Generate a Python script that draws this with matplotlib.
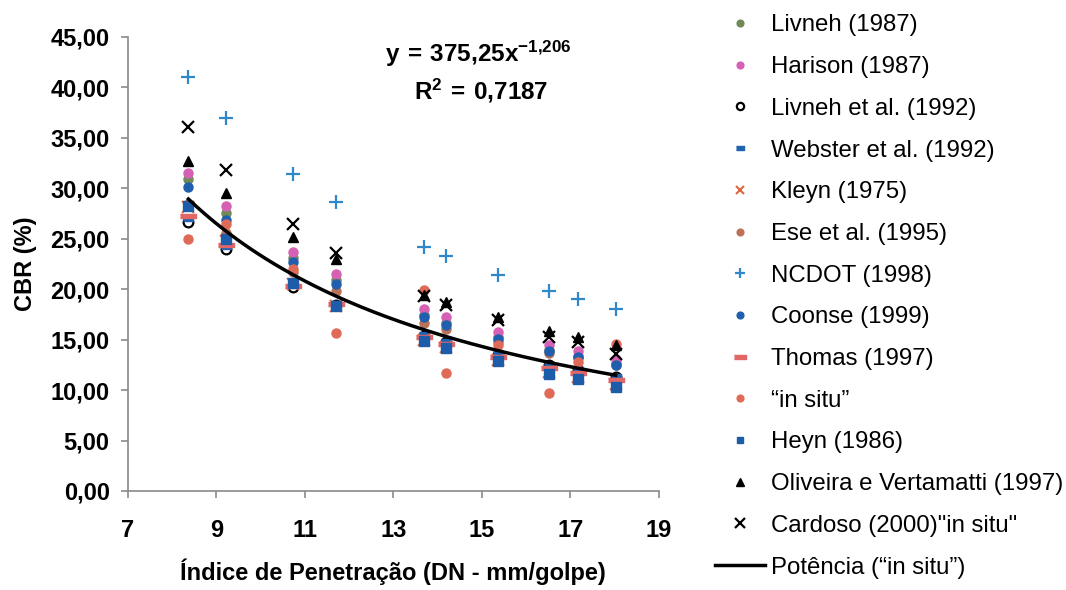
import matplotlib.pyplot as plt
import numpy as np
from matplotlib.ticker import FixedLocator, FuncFormatter, MultipleLocator

plt.rcParams['font.family'] = ['Liberation Sans', 'DejaVu Sans']
plt.rcParams['mathtext.fontset'] = 'custom'
plt.rcParams['mathtext.rm'] = 'Liberation Sans'
plt.rcParams['mathtext.bf'] = 'Liberation Sans:bold'

# penetration index of each test point (DN, mm/blow)
dn = [8.37, 9.22, 10.73, 11.70, 13.70, 14.20, 15.36, 16.52, 17.16, 18.02]

# CBR (%) given by each correlation at those points
livneh_1987 = [30.9, 27.6, 23.1, 20.9, 17.4, 16.7, 15.3, 14.0, 13.4, 12.7]
harison_1987 = [31.5, 28.2, 23.7, 21.5, 18.0, 17.2, 15.8, 14.5, 13.9, 13.1]
livneh_1992 = [26.7, 24.0, 20.2, 18.4, 15.4, 14.8, 13.5, 12.5, 12.0, 11.3]
webster_1992 = [27.0, 24.2, 20.4, 18.6, 15.6, 14.9, 13.7, 12.6, 12.1, 11.4]
kleyn_1975 = [28.1, 24.8, 20.5, 18.3, 15.0, 14.3, 13.0, 11.8, 11.3, 10.6]
ese_1995 = [28.4, 25.6, 21.7, 19.8, 16.7, 16.1, 14.8, 13.7, 13.2, 12.5]
ncdot_1998 = [41.0, 37.0, 31.4, 28.6, 24.2, 23.3, 21.4, 19.8, 19.0, 18.0]
coonse_1999 = [30.1, 26.9, 22.7, 20.5, 17.2, 16.5, 15.1, 13.9, 13.3, 12.5]
thomas_1997 = [27.3, 24.4, 20.3, 18.5, 15.3, 14.6, 13.3, 12.2, 11.7, 11.0]
in_situ = [25.0, 26.5, 22.0, 15.7, 19.9, 11.7, 14.5, 9.7, 12.8, 14.6]
heyn_1986 = [28.2, 25.0, 20.6, 18.3, 14.9, 14.2, 12.9, 11.6, 11.1, 10.3]
oliveira_1997 = [32.7, 29.5, 25.2, 23.0, 19.4, 18.7, 17.2, 15.9, 15.3, 14.5]
cardoso_2000 = [36.1, 31.8, 26.5, 23.6, 19.3, 18.4, 16.9, 15.3, 14.8, 13.6]

# power trendline of the "in situ" series: y = a * x^b
fit_a = 375.25
fit_b = -1.206
fit_r2 = 0.7187

x_ticks = [7, 9, 11, 13, 15, 17, 19]

# small horizontal bars used as markers
SHORT_BAR = [(-1, -0.5), (1, -0.5), (1, 0.5), (-1, 0.5)]
LONG_BAR = [(-1, -0.3), (1, -0.3), (1, 0.3), (-1, 0.3)]

SERIES = [
    ('Livneh (1987)', livneh_1987, dict(marker='o', color='#6f8a55', ms=6.5)),
    ('Harison (1987)', harison_1987, dict(marker='o', color='#d660b4', ms=6.5)),
    ('Livneh et al. (1992)', livneh_1992,
     dict(marker='o', mfc='white', mec='black', mew=1.6, ms=7)),
    ('Webster et al. (1992)', webster_1992, dict(marker=SHORT_BAR, color='#1f62b2', ms=7)),
    ('Kleyn (1975)', kleyn_1975, dict(marker='x', color='#e2663f', mew=1.5, ms=8)),
    ('Ese et al. (1995)', ese_1995, dict(marker='o', color='#bb7256', ms=6.5)),
    ('NCDOT (1998)', ncdot_1998, dict(marker='+', color='#2f88c9', mew=1.6, ms=10)),
    ('Coonse (1999)', coonse_1999, dict(marker='o', color='#1f5fae', ms=6.5)),
    ('Thomas (1997)', thomas_1997, dict(marker=LONG_BAR, color='#e26666', ms=11)),
    ('\u201cin situ\u201d', in_situ, dict(marker='o', color='#e06a58', ms=6.5)),
    ('Heyn (1986)', heyn_1986, dict(marker='s', color='#1d5ca8', ms=6.5)),
    ('Oliveira e Vertamatti (1997)', oliveira_1997, dict(marker='^', color='black', ms=7)),
    ('Cardoso (2000)"in situ"', cardoso_2000, dict(marker='x', color='black', mew=1.6, ms=9)),
]


def comma_decimal(value, pos):
    return f'{value:.2f}'.replace('.', ',')


def mathtext_number(value, decimals):
    # decimal comma, braced so mathtext does not add spacing after it
    return f'{value:.{decimals}f}'.replace('.', '{,}')


def draw_chart():
    fig = plt.figure(figsize=(10.66, 5.90), dpi=100)
    ax = fig.add_axes([0.1198, 0.1678, 0.4984, 0.7695])

    handles = []
    for label, values, style in SERIES:
        line, = ax.plot(dn, values, linestyle='none', label=label, **style)
        handles.append(line)

    # trendline over the range of the data
    x_fit = np.linspace(min(dn), max(dn), 200)
    fit_line, = ax.plot(x_fit, fit_a * x_fit ** fit_b, color='black', lw=2.5,
                        label='Potência (\u201cin situ\u201d)')
    handles.append(fit_line)

    a_text = mathtext_number(fit_a, 2)
    b_text = mathtext_number(fit_b, 3)
    r2_text = mathtext_number(fit_r2, 4)
    ax.text(0.66, 0.963, rf'$\mathbf{{y\,=\,{a_text}x^{{{b_text}}}}}$',
            transform=ax.transAxes, ha='center', va='center', fontsize=17.5)
    ax.text(0.665, 0.882, rf'$\mathbf{{R^2\,=\,{r2_text}}}$',
            transform=ax.transAxes, ha='center', va='center', fontsize=17.5)

    ax.set_xlim(7, 19)
    ax.set_ylim(0, 45)
    ax.xaxis.set_major_locator(FixedLocator(x_ticks))
    ax.yaxis.set_major_locator(MultipleLocator(5))
    ax.yaxis.set_major_formatter(FuncFormatter(comma_decimal))

    for side in ('top', 'right'):
        ax.spines[side].set_visible(False)
    for side in ('left', 'bottom'):
        ax.spines[side].set_color('#8a8a8a')
        ax.spines[side].set_linewidth(1.2)
    ax.tick_params(colors='#8a8a8a', length=5, width=1.2, labelcolor='black',
                   labelsize=17)
    ax.tick_params(axis='x', pad=15)
    ax.tick_params(axis='y', pad=8)
    for lbl in ax.get_xticklabels() + ax.get_yticklabels():
        lbl.set_fontweight('bold')

    ax.set_xlabel('Índice de Penetração (DN - mm/golpe)', fontsize=17,
                  fontweight='bold', labelpad=12)
    ax.set_ylabel('CBR (%)', fontsize=17, fontweight='bold', labelpad=10)

    fig.legend(handles=handles, loc='upper left', bbox_to_anchor=(0.657, 1.0),
               frameon=False, fontsize=17.3, borderpad=0.1, labelspacing=0.82,
               handlelength=2.1, handletextpad=0.25, markerscale=0.75)

    fig.savefig('out.png', dpi=100, facecolor='white')


draw_chart()
